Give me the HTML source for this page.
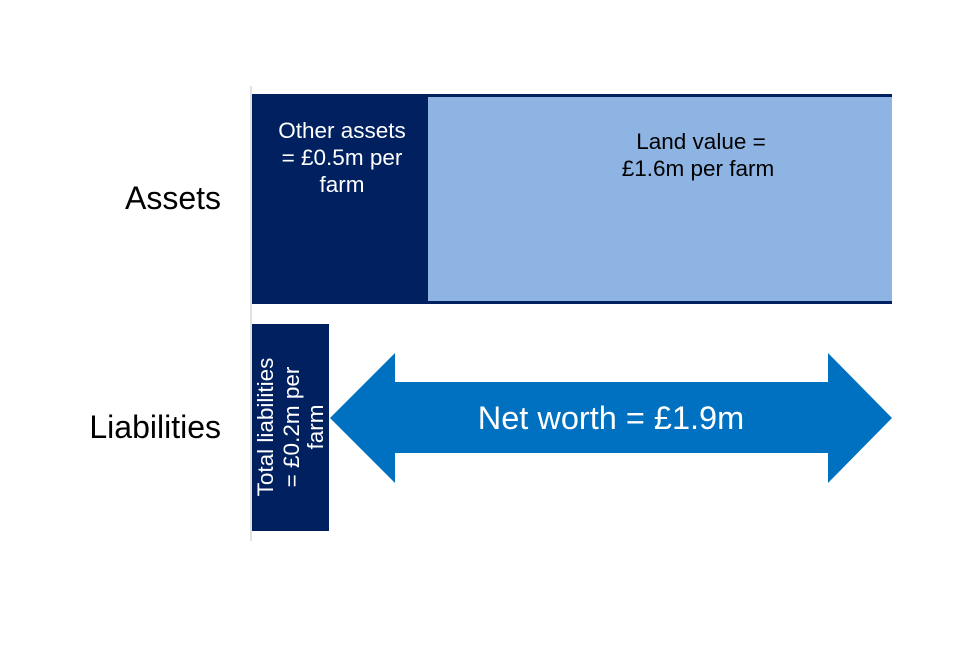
<!DOCTYPE html>
<html><head><style>body{margin:0;background:#fff}</style></head><body>
<svg width="960" height="640" viewBox="0 0 960 640" xmlns="http://www.w3.org/2000/svg" font-family="Liberation Sans, sans-serif">
<rect width="960" height="640" fill="#fff"/>
<line x1="251" y1="86" x2="251" y2="541" stroke="#d9d9d9" stroke-width="1.5"/>
<rect x="252" y="94" width="640" height="210" fill="#002060"/>
<rect x="428" y="97" width="464" height="204" fill="#8EB4E3"/>
<text fill="#fff" font-size="22.5" text-anchor="middle"><tspan x="342" y="138">Other assets</tspan><tspan x="342" y="165">= £0.5m per</tspan><tspan x="342" y="192">farm</tspan></text>
<text fill="#000" font-size="22.5" text-anchor="middle"><tspan x="701" y="149">Land value =</tspan><tspan x="698" y="176">£1.6m per farm</tspan></text>
<text x="221" y="209" font-size="32" text-anchor="end" fill="#000">Assets</text>
<text x="221" y="438" font-size="32" text-anchor="end" fill="#000">Liabilities</text>
<rect x="252" y="324" width="77" height="207" fill="#002060"/>
<text fill="#fff" font-size="22.5" text-anchor="middle" transform="translate(290,427) rotate(-90)"><tspan x="0" y="-17">Total liabilities</tspan><tspan x="0" y="9">= £0.2m per</tspan><tspan x="0" y="33">farm</tspan></text>
<polygon points="330,418 395,353 395,382 828,382 828,353 892,418 828,483 828,453 395,453 395,483" fill="#0070C0"/>
<text x="611" y="429" font-size="32.5" text-anchor="middle" fill="#fff">Net worth = £1.9m</text>
</svg>
</body></html>
